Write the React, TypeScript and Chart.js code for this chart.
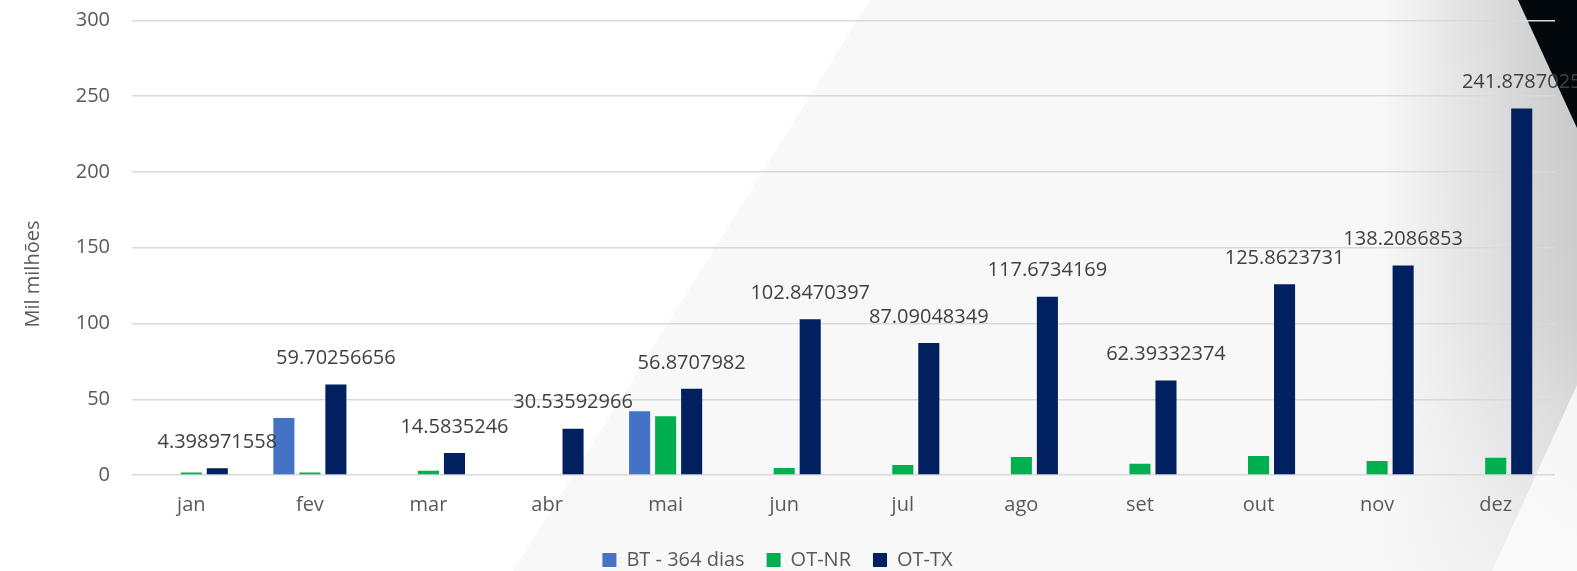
import React, { useEffect, useRef } from "react";
import { Chart, registerables } from "chart.js";

Chart.register(...registerables);

const months = ["jan", "fev", "mar", "abr", "mai", "jun", "jul", "ago", "set", "out", "nov", "dez"];
const btValues = [null, 37.6, null, null, 42.0, null, null, null, null, null, null, null];
const otnrValues = [1.7, 1.7, 2.8, null, 38.7, 4.6, 6.6, 11.9, 7.5, 12.5, 9.2, 11.4];
const ottxValues = [
  4.398971558, 59.70256656, 14.5835246, 30.53592966, 56.8707982, 102.8470397,
  87.09048349, 117.6734169, 62.39332374, 125.8623731, 138.2086853, 241.8787025,
];
const seriesNames = ["BT - 364 dias", "OT-NR", "OT-TX"];
const yTicks = [0, 50, 100, 150, 200, 250, 300];
const yTitle = "Mil milhões";

const FONT = "'Open Sans', 'Noto Sans', sans-serif";

const backgroundPlugin = {
  id: "bgDecor",
  beforeDraw(chart: any) {
    const { ctx, width, height } = chart;
    ctx.save();
    ctx.fillStyle = "#f8f8f8";
    ctx.fillRect(0, 0, width, height);
    ctx.fillStyle = "#ffffff";
    ctx.beginPath();
    ctx.moveTo(0, 0);
    ctx.lineTo(870, 0);
    ctx.lineTo(513, height);
    ctx.lineTo(0, height);
    ctx.closePath();
    ctx.fill();
    const g = ctx.createLinearGradient(1380, 0, width, 0);
    g.addColorStop(0, "rgba(0,0,0,0)");
    g.addColorStop(1, "rgba(0,0,0,0.2)");
    ctx.fillStyle = g;
    ctx.fillRect(1380, 0, width - 1380, height);
    const v = ctx.createLinearGradient(0, 0, 0, height);
    v.addColorStop(0, "rgba(248,248,248,0)");
    v.addColorStop(0.55, "rgba(248,248,248,0.15)");
    v.addColorStop(1, "rgba(248,248,248,0.75)");
    ctx.fillStyle = v;
    ctx.fillRect(1380, 0, width - 1380, height);
    ctx.fillStyle = "rgba(252,252,252,0.8)";
    ctx.beginPath();
    ctx.moveTo(width, 385);
    ctx.lineTo(width, height);
    ctx.lineTo(1492, height);
    ctx.closePath();
    ctx.fill();
    ctx.fillStyle = "#02080c";
    ctx.beginPath();
    ctx.moveTo(1518, 0);
    ctx.lineTo(width, 0);
    ctx.lineTo(width, 128);
    ctx.closePath();
    ctx.fill();
    ctx.restore();
  },
};

const labelsPlugin = {
  id: "valueLabels",
  afterDatasetsDraw(chart: any) {
    const { ctx } = chart;
    ctx.save();
    ctx.font = `20px ${FONT}`;
    ctx.fillStyle = "#404040";
    ctx.textAlign = "center";
    ctx.textBaseline = "middle";
    const meta = chart.getDatasetMeta(2);
    meta.data.forEach((el: any, i: number) => {
      const val = ottxValues[i];
      if (val == null) return;
      ctx.fillText(String(val), el.x, el.y - 26);
    });
    ctx.fillStyle = "#595959";
    ctx.translate(33, 274);
    ctx.rotate(-Math.PI / 2);
    ctx.fillText(yTitle, 0, 0);
    ctx.restore();
  },
};

export default function App() {
  const ref = useRef<HTMLCanvasElement>(null);
  useEffect(() => {
    if (!ref.current) return;
    const chart = new Chart(ref.current, {
      type: "bar",
      data: {
        labels: months,
        datasets: [
          { label: seriesNames[0], data: btValues, backgroundColor: "#4472C4" },
          { label: seriesNames[1], data: otnrValues, backgroundColor: "#00B050" },
          { label: seriesNames[2], data: ottxValues, backgroundColor: "#002060" },
        ],
      },
      options: {
        responsive: false,
        animation: false,
        layout: { padding: { top: 20.5, right: 22, bottom: 0, left: 0 } },
        datasets: {
          bar: { categoryPercentage: 0.658, barPercentage: 0.81, borderWidth: 0 },
        },
        plugins: {
          legend: {
            position: "bottom",
            maxHeight: 43,
            labels: {
              font: { family: FONT, size: 20 },
              color: "#595959",
              boxWidth: 14,
              boxHeight: 14,
              padding: 22,
            },
          },
          tooltip: { enabled: false },
        },
        scales: {
          x: {
            grid: { display: false, drawTicks: false },
            border: { display: false },
            ticks: { font: { family: FONT, size: 20 }, color: "#595959", padding: 18 },
            afterFit(scale: any) {
              scale.height = 53;
            },
          },
          y: {
            min: 0,
            max: 300,
            afterBuildTicks(scale: any) {
              scale.ticks = yTicks.map((v) => ({ value: v }));
            },
            grid: { color: "#d9d9d9", lineWidth: 1.5, drawTicks: false },
            border: { display: false },
            ticks: { font: { family: FONT, size: 20 }, color: "#595959", padding: 22 },
            afterFit(scale: any) {
              scale.width = 132;
              scale.paddingTop = 0;
              scale.paddingBottom = 0;
            },
          },
        },
      },
      plugins: [backgroundPlugin, labelsPlugin],
    });
    return () => chart.destroy();
  }, []);
  return (
    <div style={{ position: "absolute", left: 0, top: 0, width: 1577, height: 571 }}>
      <canvas ref={ref} width={1577} height={571} style={{ display: "block" }} />
    </div>
  );
}
